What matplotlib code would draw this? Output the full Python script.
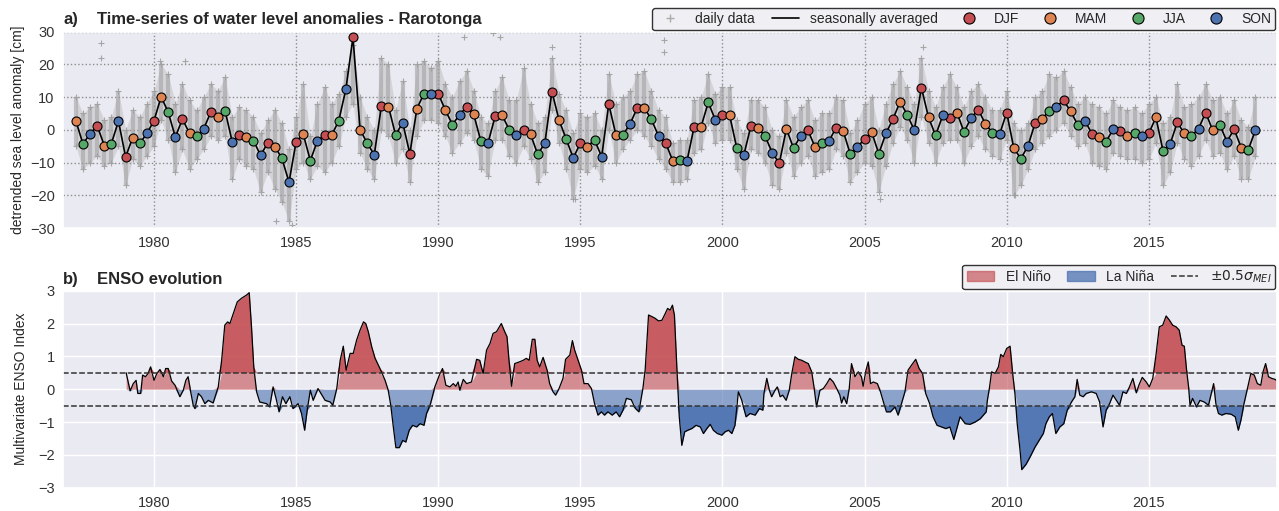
import numpy as np
import matplotlib
matplotlib.use('Agg')
import matplotlib.pyplot as plt
import seaborn as sns
from matplotlib.lines import Line2D
from matplotlib.patches import Patch

sns.set_theme(style='darkgrid')
plt.rcParams['font.family'] = ['Liberation Sans', 'DejaVu Sans']

# --- a) seasonal water level anomalies, Rarotonga [cm] (first value = MAM 1977) ---
season_start = 1977.25
season_order = ['MAM', 'JJA', 'SON', 'DJF']
seasonal_anom = [
    2.8, -4.3, -1.2, 1.3, -4.8, -4.2, 2.7, -8.3, -2.4, -4.1, -1.1, 2.8, 10.1, 5.4, -2.2, 3.3,
    -1.1, -2.0, 0.3, 5.5, 3.8, 5.9, -3.6, -1.6, -2.2, -3.3, -7.8, -4.0, -5.1, -8.7, -16.0, -3.6,
    -1.3, -9.4, -3.3, -1.7, -1.7, 2.8, 12.4, 28.3, 0.1, -4.1, -7.6, 7.3, 7.1, -1.6, 2.2, -7.3, 6.5,
    11.1, 11.1, 11.1, 6.0, 1.6, 4.6, 7.1, 4.7, -3.5, -4.1, 4.1, 4.4, 0.0, -1.7, -0.2, -1.4,
    -7.5, -4.1, 11.7, 3.0, -2.8, -8.6, -4.1, -5.1, -3.1, -8.2, 7.9, -1.5, -1.5, 1.8, 6.7, 6.7,
    3.2, -1.9, -3.9, -9.5, -9.3, -9.6, 0.8, 1.0, 8.4, 3.0, 4.5, 4.5, -5.4, -7.8, 1.2, 0.7,
    -1.9, -7.0, -10.2, 0.3, -5.6, -1.9, 0.0, -5.1, -4.1, -3.4, 0.7,
    -0.4, -7.5, -5.3, -2.7, -0.7, -7.3, -1.1, 3.3, 8.6, 4.6, -0.1, 12.9, 3.8, -1.7, 4.4, 3.5,
    5.3, -0.7, 3.7, 6.2, 1.8, -0.9, -1.4, 5.3, -5.6, -8.8, -4.9, 2.1, 3.4, 5.9, 7.1, 9.0,
    5.7, 1.5, 2.8, -1.2, -2.1, -3.6, 0.3, -0.5, -1.8, -1.1, -1.8, -1.1, 3.8, -6.4, -4.4, 2.3,
    -1.1, -1.8, 0.3, 5.3, -0.2, 1.5, -3.6, 0.2, -5.4, -6.1, -0.1,
]
# spread of the daily values within each season (upper / lower edge of the cloud)
daily_hi = [
    10, 5, 7, 8, 3, 4, 12, 0, 6, 4, 8, 12, 20, 17, 8, 14, 9, 6, 10, 14, 12, 16, 4, 7, 6, 4,
    -1, 3, 6, 2, -6, 4, 14, -2, 8, 13, 8, 11, 18, 26, 10, 4, 0, 22, 20, 6, 15, 0, 20,
    21, 19, 21, 14, 10, 15, 18, 12, 4, 2, 12, 16, 9, 9, 19, 8, 2, 4, 22, 11, 6, -1, 5, 4, 5,
    0, 17, 8, 10, 12, 17, 18, 12, 6, 4, -4, -3, -3, 9, 10, 17, 11, 13, 13, 3, -1, 9, 9, 7,
    0, -2, 9, 4, 7, 9, 3, 5, 5, 10,
    9, -1, 3, 8, 10, 0, 8, 14, 18, 13, 8, 22, 12, 7, 13, 17, 13, 7, 12, 14, 10, 6, 6, 12,
    2, 0, 2, 10, 12, 17, 16, 18, 13, 8, 10, 8, 7, 5, 9, 7, 6, 7, 5, 8, 10, 2, 4, 14, 7, 8,
    10, 14, 9, 10, 5, 9, 3, 1, 10,
]
daily_lo = [
    -5, -12, -10, -8, -11, -10, -5, -17, -9, -11, -8, -5, 3, -3, -13, -6, -12, -9, -6, -2,
    -3, -2, -15, -9, -11, -12, -19, -13, -18, -22, -28, -12, -10, -15, -11, -13, -10, -5, 4,
    8, -7, -12, -15, 0, -2, -10, -6, -16, -2,
    3, 3, 2, -2, -7, -4, -1, -3, -12, -14, -3, -3, -8, -10, -5, -9, -16, -13, 6, -4, -12,
    -21, -12, -13, -11, -15, 0, -10, -6, -3, 0, -2, -5, -9, -12, -16, -16, -15, -7, -6, 2,
    -4, -3, -3, -12, -18, -6, -7, -10, -17, -18, -7, -14, -10, -8, -14, -13, -12, -6,
    -8, -16, -13, -10, -11, -19, -11, -4, 1, -3, -10, 4, -4, -10, -4, -3, -3, -10, -5, -2,
    -6, -8, -9, -3, -20, -17, -12, -6, -4, -2, 0, 2, -2, -5, -4, -10, -11, -12, -7, -8, -9,
    -9, -10, -9, -4, -17, -13, -4, -9, -11, -8, -3, -8, -7, -12, -8, -15, -15, -8,
]
# isolated daily extremes outside the cloud
outlier_t = [1978.13, 1978.13, 1980.2, 1981.1, 1984.3, 1984.85, 1990.92, 1991.94, 1992.18,
             1994.02, 1997.93, 1997.93, 2007.06, 2005.55, 2010.3, 1994.8]
outlier_v = [26.4, 21.9, 21, 21, -28, -29, 28.5, 29.5, 28.5, 25.4, 27.5, 23.9, 25.4, -21, -20, -21]

# --- b) Multivariate ENSO Index ---
mei_time = [
    1979.02, 1979.16, 1979.27, 1979.37, 1979.43, 1979.53, 1979.60, 1979.70, 1979.79, 1979.88,
    1980.00, 1980.10, 1980.21, 1980.33, 1980.41, 1980.50, 1980.62, 1980.74, 1980.91, 1981.03,
    1981.12, 1981.20, 1981.29, 1981.38, 1981.44, 1981.56, 1981.67, 1981.79, 1981.91, 1982.08,
    1982.26, 1982.38, 1982.49, 1982.59, 1982.67, 1982.79, 1982.93, 1983.08, 1983.26, 1983.35,
    1983.43, 1983.51, 1983.61, 1983.72, 1983.96, 1984.07, 1984.19, 1984.31, 1984.40, 1984.52,
    1984.64, 1984.78, 1984.89, 1985.07, 1985.19, 1985.30, 1985.39, 1985.50, 1985.60, 1985.77,
    1986.02, 1986.20, 1986.29, 1986.43, 1986.55, 1986.66, 1986.76, 1986.90, 1987.01, 1987.13,
    1987.25, 1987.37, 1987.45, 1987.54, 1987.66, 1987.78, 1987.95, 1988.13, 1988.24, 1988.33,
    1988.42, 1988.51, 1988.63, 1988.75, 1988.86, 1988.98, 1989.10, 1989.24, 1989.36, 1989.50,
    1989.59, 1989.73, 1989.88, 1990.04, 1990.15, 1990.27, 1990.41, 1990.53, 1990.62, 1990.70,
    1990.76, 1990.88, 1991.00, 1991.17, 1991.35, 1991.46, 1991.58, 1991.70, 1991.82, 1991.93,
    1992.05, 1992.22, 1992.34, 1992.42, 1992.49, 1992.58, 1992.69, 1992.85, 1992.99, 1993.10,
    1993.20, 1993.31, 1993.40, 1993.48, 1993.57, 1993.69, 1993.83, 1993.92, 1994.04, 1994.13,
    1994.25, 1994.39, 1994.48, 1994.63, 1994.72, 1994.80, 1994.92, 1995.04, 1995.13, 1995.27,
    1995.39, 1995.50, 1995.62, 1995.74, 1995.85, 1995.97, 1996.12, 1996.26, 1996.38, 1996.50,
    1996.62, 1996.79, 1996.94, 1997.06, 1997.20, 1997.28, 1997.40, 1997.52, 1997.63, 1997.75,
    1997.87, 1997.99, 1998.07, 1998.16, 1998.24, 1998.31, 1998.40, 1998.48, 1998.57, 1998.67,
    1998.78, 1998.92, 1999.07, 1999.22, 1999.33, 1999.45, 1999.57, 1999.68, 1999.82, 1999.98,
    2000.09, 2000.21, 2000.33, 2000.44, 2000.56, 2000.68, 2000.83, 2000.97, 2001.15, 2001.30,
    2001.42, 2001.46, 2001.56, 2001.65, 2001.73, 2001.85, 2001.93, 2002.03, 2002.12, 2002.24,
    2002.35, 2002.44, 2002.55, 2002.67, 2002.79, 2002.90, 2003.02, 2003.14, 2003.22, 2003.31,
    2003.43, 2003.55, 2003.67, 2003.78, 2003.90, 2004.02, 2004.13, 2004.19, 2004.27, 2004.37,
    2004.46, 2004.54, 2004.66, 2004.78, 2004.89, 2004.95, 2005.05, 2005.13, 2005.21, 2005.31,
    2005.45, 2005.56, 2005.68, 2005.77, 2005.91, 2006.07, 2006.18, 2006.30, 2006.42, 2006.53,
    2006.65, 2006.80, 2006.92, 2007.04, 2007.15, 2007.29, 2007.41, 2007.55, 2007.70, 2007.86,
    2008.00, 2008.14, 2008.36, 2008.54, 2008.71, 2008.89, 2009.07, 2009.18, 2009.28, 2009.32,
    2009.39, 2009.47, 2009.59, 2009.71, 2009.79, 2009.88, 2010.00, 2010.12, 2010.21, 2010.29,
    2010.37, 2010.47, 2010.53, 2010.68, 2010.82, 2011.00, 2011.14, 2011.29, 2011.38, 2011.50,
    2011.61, 2011.73, 2011.87, 2012.01, 2012.13, 2012.28, 2012.40, 2012.48, 2012.57, 2012.69,
    2012.80, 2012.98, 2013.15, 2013.27, 2013.39, 2013.50, 2013.62, 2013.74, 2013.86, 2013.97,
    2014.09, 2014.21, 2014.32, 2014.44, 2014.56, 2014.65, 2014.77, 2014.91, 2015.02, 2015.14,
    2015.26, 2015.37, 2015.49, 2015.61, 2015.72, 2015.84, 2015.96, 2016.07, 2016.17, 2016.25,
    2016.33, 2016.40, 2016.45, 2016.54, 2016.68, 2016.80, 2016.95, 2017.10, 2017.20, 2017.28,
    2017.36, 2017.45, 2017.57, 2017.71, 2017.89, 2018.04, 2018.15, 2018.24, 2018.35, 2018.47,
    2018.59, 2018.71, 2018.82, 2018.94, 2019.02, 2019.11, 2019.21, 2019.32, 2019.44, 2019.52,
]
mei_value = [
    0.50, -0.05, 0.17, 0.27, -0.13, -0.13, 0.43, 0.38, 0.48, 0.68,
    0.27, 0.48, 0.60, 0.38, 0.63, 0.63, 0.25, 0.12, -0.23, -0.03,
    0.27, 0.38, -0.08, -0.49, -0.59, -0.13, -0.23, -0.44, -0.34, -0.42,
    0.07, 0.88, 1.95, 2.05, 2.00, 2.30, 2.66, 2.77, 2.87, 2.94,
    1.90, 0.68, -0.08, -0.39, -0.44, -0.54, 0.07, -0.34, -0.69, -0.23,
    -0.44, -0.23, -0.59, -0.44, -0.74, -1.25, -0.64, -0.03, -0.34, 0.02,
    -0.34, -0.39, -0.49, 0.02, 0.88, 1.31, 0.58, 1.09, 1.09, 1.50,
    1.80, 2.05, 2.00, 1.75, 1.29, 0.94, 0.63, 0.27, -0.03, -0.49,
    -1.15, -1.78, -1.78, -1.56, -1.61, -1.25, -1.10, -1.15, -1.05, -1.10,
    -0.74, -0.44, 0.07, 0.43, 0.63, 0.12, 0.07, 0.17, 0.09, 0.22,
    -0.03, 0.30, 0.17, 0.22, 0.91, 0.88, 0.48, 1.19, 1.39, 1.70,
    1.75, 2.00, 1.75, 1.60, 0.88, 0.09, 0.78, 0.83, 0.88, 0.94,
    0.88, 1.52, 1.52, 0.88, 0.68, 0.97, 0.58, 0.17, -0.08, -0.18,
    0.02, 0.33, 0.91, 1.04, 1.48, 1.19, 0.88, 0.58, 0.17, 0.17,
    0.02, -0.44, -0.79, -0.69, -0.79, -0.69, -0.79, -0.69, -0.84, -0.64,
    -0.28, -0.32, -0.59, -0.69, 0.02, 0.58, 2.26, 2.21, 2.16, 2.08,
    2.10, 2.31, 2.46, 2.41, 2.56, 2.26, 0.58, -0.84, -1.71, -1.30,
    -1.25, -1.20, -1.10, -1.15, -1.35, -1.20, -1.07, -1.25, -1.35, -1.40,
    -1.30, -1.25, -1.35, -1.10, -0.08, -0.34, -0.84, -0.74, -0.79, -0.59,
    -0.64, -0.13, 0.33, -0.03, -0.23, -0.03, 0.07, -0.23, -0.18, -0.34,
    -0.03, 0.48, 0.99, 0.91, 0.88, 0.83, 0.78, 0.53, 0.07, -0.54,
    -0.03, 0.02, 0.17, 0.33, 0.22, 0.02, -0.18, -0.42, -0.23, -0.44,
    0.02, 0.78, 0.38, 0.53, 0.38, 0.09, 0.58, 0.83, 0.17, 0.22,
    0.17, -0.08, -0.44, -0.69, -0.69, -0.54, -0.79, -0.44, -0.08, 0.58,
    0.73, 0.91, 0.63, 0.48, -0.13, -0.44, -0.84, -1.10, -1.15, -1.20,
    -1.15, -1.53, -0.84, -1.05, -1.07, -1.00, -0.90, -0.79, -0.69, -0.34,
    0.02, 0.53, 0.48, 0.68, 1.06, 0.99, 1.24, 1.31, 0.48, -0.13,
    -1.05, -1.86, -2.45, -2.29, -2.07, -1.76, -1.56, -1.35, -1.05, -0.84,
    -0.74, -1.35, -1.15, -1.05, -0.64, -0.39, -0.23, 0.30, -0.18, -0.23,
    -0.13, -0.08, -0.13, -0.39, -1.15, -0.64, -0.44, -0.18, -0.34, -0.49,
    -0.08, -0.13, 0.07, 0.33, -0.11, 0.12, 0.36, 0.22, 0.07, 0.33,
    1.09, 1.90, 1.95, 2.23, 2.11, 1.95, 1.90, 1.80, 1.34, 1.31,
    0.58, 0.07, -0.49, -0.28, -0.54, -0.34, -0.39, -0.49, -0.13, 0.17,
    -0.44, -0.74, -0.79, -0.74, -0.76, -0.84, -1.25, -0.95, -0.44, 0.02,
    0.48, 0.43, 0.17, 0.12, 0.53, 0.78, 0.38, 0.33, 0.30, 0.25,
]
mei_threshold = 0.5

season_colors = {'DJF': '#C44E52', 'MAM': '#DD8452', 'JJA': '#55A868', 'SON': '#4C72B0'}
red = '#C44E52'
blue = '#4C72B0'
bg = '#EAEAF2'
cloud = '#9f9f9f'

fig = plt.figure(figsize=(12.79, 5.11), dpi=100)
ax1 = fig.add_axes([0.0493, 0.5538, 0.9489, 0.3842])
ax2 = fig.add_axes([0.0493, 0.0456, 0.9489, 0.3855])

# ---------- a) water levels ----------
t = season_start + 0.25 * np.arange(len(seasonal_anom))
anom = np.array(seasonal_anom)
labels = np.array([season_order[i % 4] for i in range(len(anom))])

ax1.fill_between(t, daily_lo, daily_hi, color=cloud, alpha=0.3, lw=0, zorder=1)
ax1.vlines(t, daily_lo, daily_hi, color=cloud, alpha=0.55, lw=3, zorder=1)
ax1.plot(t, daily_hi, '+', color=cloud, ms=4, mew=0.8, alpha=0.9, zorder=1)
ax1.plot(t, daily_lo, '+', color=cloud, ms=4, mew=0.8, alpha=0.9, zorder=1)
ax1.plot(outlier_t, outlier_v, '+', color=cloud, ms=4, mew=0.8, alpha=0.9, zorder=1)
ax1.plot(t, anom, color='black', lw=1.2, zorder=3)
for s in ['DJF', 'MAM', 'JJA', 'SON']:
    m = labels == s
    ax1.scatter(t[m], anom[m], s=42, color=season_colors[s], edgecolor='black',
                linewidth=0.8, zorder=4)

ax1.set_xlim(1976.8, 2019.5)
ax1.set_ylim(-30, 30)
ax1.set_yticks(np.arange(-30, 31, 10))
ax1.set_xticks(np.arange(1980, 2016, 5))
ax1.grid(True, color='#8c8c8c', linestyle=':', linewidth=1.0)
ax1.set_ylabel('detrended sea level anomaly [cm]', fontsize=10)
ax1.yaxis.set_label_coords(-0.031, 0.5)
ax1.text(0, 1.04, 'a)', transform=ax1.transAxes, fontsize=12, fontweight='bold', va='baseline')
ax1.text(0.028, 1.04, 'Time-series of water level anomalies - Rarotonga', transform=ax1.transAxes,
         fontsize=12, fontweight='bold', va='baseline')

h1 = [Line2D([], [], marker='+', color='#aaaaaa', ls='none', ms=6),
      Line2D([], [], color='black', lw=1.2)]
for s in ['DJF', 'MAM', 'JJA', 'SON']:
    h1.append(Line2D([], [], marker='o', ls='none', ms=8, markerfacecolor=season_colors[s],
                     markeredgecolor='black', markeredgewidth=0.8))
leg1 = ax1.legend(h1, ['daily data', 'seasonally averaged', 'DJF', 'MAM', 'JJA', 'SON'],
                  loc='lower right', bbox_to_anchor=(1.0, 1.0), ncol=6, fontsize=10,
                  frameon=True, borderaxespad=0.1, columnspacing=1.2, handletextpad=0.8,
                  borderpad=0.3)
leg1.get_frame().set_edgecolor('#333333')
leg1.get_frame().set_facecolor('#F0F0F4')
leg1.get_frame().set_alpha(1)

# ---------- b) ENSO ----------
tm = np.array(mei_time)
v = np.array(mei_value)
thr = mei_threshold
ax2.fill_between(tm, 0, np.clip(v, 0, thr), color=red, alpha=0.6, lw=0)
ax2.fill_between(tm, thr, np.maximum(v, thr), color=red, alpha=0.9, lw=0)
ax2.fill_between(tm, 0, np.clip(v, -thr, 0), color=blue, alpha=0.6, lw=0)
ax2.fill_between(tm, -thr, np.minimum(v, -thr), color=blue, alpha=0.95, lw=0)
ax2.plot(tm, v, color='black', lw=0.9)
ax2.axhline(thr, color='#333333', ls='--', lw=1.1)
ax2.axhline(-thr, color='#333333', ls='--', lw=1.1)

ax2.set_xlim(1976.8, 2019.5)
ax2.set_ylim(-3, 3)
ax2.set_yticks(np.arange(-3, 4, 1))
ax2.set_xticks(np.arange(1980, 2016, 5))
ax2.set_ylabel('Multivariate ENSO Index', fontsize=10)
ax2.yaxis.set_label_coords(-0.029, 0.5)
ax2.text(0, 1.036, 'b)', transform=ax2.transAxes, fontsize=12, fontweight='bold', va='baseline')
ax2.text(0.0277, 1.036, 'ENSO evolution', transform=ax2.transAxes,
         fontsize=12, fontweight='bold', va='baseline')

h2 = [Patch(color=red, alpha=0.65), Patch(color=blue, alpha=0.75),
      Line2D([], [], color='#333333', ls='--', lw=1.1)]
leg2 = ax2.legend(h2, ['El Niño', 'La Niña', r'$\pm0.5\sigma_{MEI}$'], loc='lower right',
                  bbox_to_anchor=(1.0, 1.0), ncol=3, fontsize=10, frameon=True,
                  borderaxespad=0.1, columnspacing=1.2, handletextpad=0.8, borderpad=0.3)
leg2.get_frame().set_edgecolor('#333333')
leg2.get_frame().set_facecolor('#F0F0F4')
leg2.get_frame().set_alpha(1)

for ax in (ax1, ax2):
    ax.set_facecolor(bg)
    ax.tick_params(axis='both', length=0, labelsize=10.5, colors='#333333')
    ax.tick_params(axis='x', pad=6)
    ax.tick_params(axis='y', pad=6)

fig.savefig('out.png', dpi=100)
